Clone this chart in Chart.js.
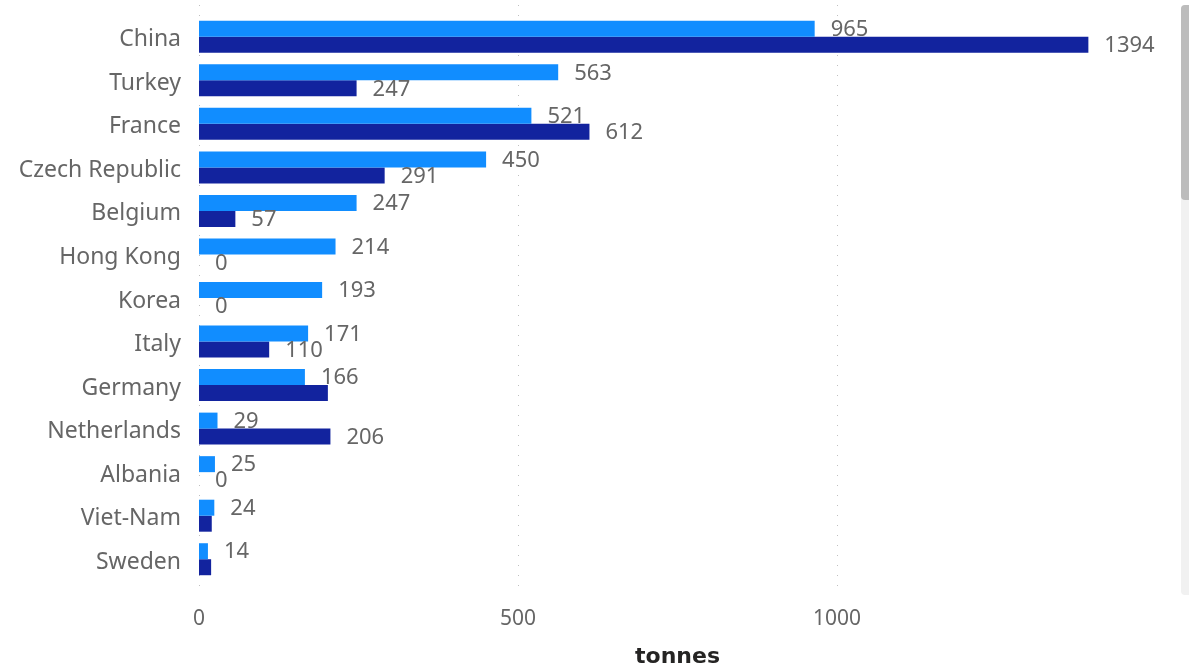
<!DOCTYPE html>
<html lang="en">
<head>
    <meta charset="UTF-8">
    <script src="https://cdn.jsdelivr.net/npm/chart.js@4.4.0/dist/chart.umd.min.js"></script>
    <title>Imports by country</title>
    <style>
        body { margin: 0; background: #fff; }
        #wrap { position: relative; width: 1189px; height: 670px; }
        /* scrollbar of the visual */
        #track { position: absolute; left: 1181px; top: 5px; width: 8px; height: 590px; background: #f1f1f1; border-radius: 4px 0 0 4px; }
        #thumb { position: absolute; left: 1181px; top: 5px; width: 8px; height: 195px; background: #bcbcbc; border-radius: 4px 0 0 4px; }
    </style>
</head>
<body>
<div id="wrap">
    <canvas id="chart" width="1189" height="670"></canvas>
    <div id="track"></div>
    <div id="thumb"></div>
</div>
<script>
    const countries = ['China', 'Turkey', 'France', 'Czech Republic', 'Belgium', 'Hong Kong', 'Korea',
        'Italy', 'Germany', 'Netherlands', 'Albania', 'Viet-Nam', 'Sweden'];
    const seriesA = [965, 563, 521, 450, 247, 214, 193, 171, 166, 29, 25, 24, 14];
    const seriesB = [1394, 247, 612, 291, 57, 0, 0, 110, 202, 206, 0, 20, 19];
    // Power BI dropped these labels because they collided
    const showLabelB = [true, true, true, true, true, true, true, true, false, true, true, false, false];
    const xTicks = [0, 500, 1000];

    const labelFont = '22px "Noto Sans"';
    const grey = '#666666';

    // dotted vertical grid, a bit taller than the plot area
    const gridPlugin = {
        id: 'dotGrid',
        beforeDatasetsDraw(chart) {
            const ctx = chart.ctx;
            const x = chart.scales.x;
            const area = chart.chartArea;
            ctx.save();
            ctx.strokeStyle = '#c0c0c0';
            ctx.lineWidth = 1;
            ctx.setLineDash([1, 9]);
            x.ticks.forEach(t => {
                const px = Math.round(x.getPixelForValue(t.value)) + 0.5;
                ctx.beginPath();
                ctx.moveTo(px, area.top - 10);
                ctx.lineTo(px, area.bottom + 14);
                ctx.stroke();
            });
            ctx.restore();
        }
    };

    // value labels placed outside the bar end
    const labelPlugin = {
        id: 'barLabels',
        afterDatasetsDraw(chart) {
            const ctx = chart.ctx;
            ctx.save();
            ctx.font = labelFont;
            ctx.fillStyle = grey;
            ctx.textAlign = 'left';
            ctx.textBaseline = 'middle';
            chart.data.datasets.forEach((ds, i) => {
                chart.getDatasetMeta(i).data.forEach((bar, j) => {
                    if (i === 1 && !showLabelB[j]) return;
                    ctx.fillText(String(ds.data[j]), bar.x + 16, bar.y + 1);
                });
            });
            ctx.restore();
        }
    };

    new Chart(document.getElementById('chart'), {
        type: 'bar',
        data: {
            labels: countries,
            datasets: [
                { data: seriesA, backgroundColor: '#118DFF' },
                { data: seriesB, backgroundColor: '#12239E' }
            ]
        },
        options: {
            indexAxis: 'y',
            responsive: false,
            animation: false,
            categoryPercentage: 0.735,
            barPercentage: 1,
            layout: { padding: { top: 15, right: 33, left: 0, bottom: 0 } },
            plugins: { legend: { display: false }, tooltip: { enabled: false } },
            scales: {
                x: {
                    min: 0,
                    max: 1500,
                    afterBuildTicks(scale) { scale.ticks = xTicks.map(v => ({ value: v })); },
                    afterFit(scale) { scale.height = 89; scale.paddingLeft = 0; scale.paddingRight = 0; },
                    grid: { display: false, drawTicks: false },
                    border: { display: false },
                    ticks: {
                        color: grey,
                        font: { family: 'Noto Sans', size: 21 },
                        padding: 25,
                        callback: v => String(v)
                    },
                    title: {
                        display: true,
                        text: 'tonnes',
                        color: '#252423',
                        font: { family: 'DejaVu Sans', size: 22, weight: 'bold' },
                        padding: { top: 4, bottom: 0 }
                    }
                },
                y: {
                    afterFit(scale) { scale.width = 199; scale.paddingTop = 0; scale.paddingBottom = 0; },
                    grid: { display: false, drawTicks: false },
                    border: { display: false },
                    ticks: { color: grey, font: { family: 'Noto Sans', size: 23 }, padding: 18, labelOffset: 3 }
                }
            }
        },
        plugins: [gridPlugin, labelPlugin]
    });
</script>
</body>
</html>
